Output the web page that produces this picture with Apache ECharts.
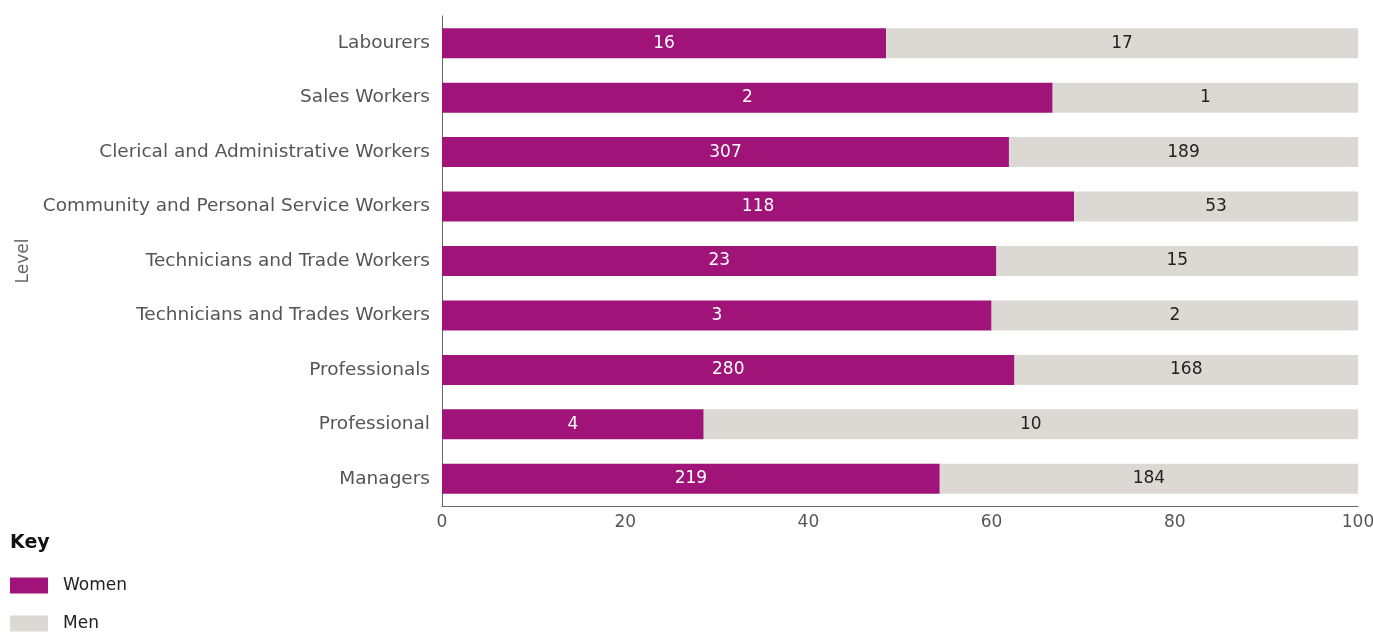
<!DOCTYPE html>
<html><head><meta charset="utf-8">
<script src="https://cdn.jsdelivr.net/npm/echarts@6/dist/echarts.min.js"></script>
<style>html,body{margin:0;padding:0;background:#fff;overflow:hidden}#c{width:1373px;height:632px}</style>
</head><body><div id="c"></div>
<script>
const categories = ["Managers","Professional","Professionals","Technicians and Trades Workers","Technicians and Trade Workers","Community and Personal Service Workers","Clerical and Administrative Workers","Sales Workers","Labourers"];
const women = [219,4,280,3,23,118,307,2,16];
const men = [184,10,168,2,15,53,189,1,17];
const xTicks = [0,20,40,60,80,100];

const womenPct = women.map((w,i)=> w/(w+men[i])*100);
const menPct = men.map((m,i)=> m/(women[i]+m)*100);
const font = "'DejaVu Sans', sans-serif";
const fs = 17;
const chart = echarts.init(document.getElementById('c'));
const legendText = {color:'#222',fontSize:fs,fontFamily:font,padding:[0,0,0,10]};
chart.setOption({
  animation:false,
  grid:{left:442,right:15,top:16,bottom:126,containLabel:false,outerBoundsMode:'none'},
  xAxis:{type:'value',min:0,max:100,interval:20,
    axisLine:{show:true,lineStyle:{color:'#666'}},axisTick:{show:false},splitLine:{show:false},
    axisLabel:{color:'#555',fontSize:fs,fontFamily:font,margin:8,formatter:v=>xTicks.includes(v)?String(v):''}},
  yAxis:{type:'category',data:categories,name:'Level',nameLocation:'middle',nameGap:399,
    nameTextStyle:{color:'#666',fontSize:fs,fontFamily:font},
    axisLine:{show:true,lineStyle:{color:'#666'}},axisTick:{show:false},
    axisLabel:{color:'#555',fontSize:18.5,fontFamily:font,margin:12}},
  legend:[
    {left:10,top:577,padding:0,itemWidth:38,itemHeight:16,icon:'rect',textStyle:legendText,data:['Women']},
    {left:10,top:615,padding:0,itemWidth:38,itemHeight:16,icon:'rect',textStyle:legendText,data:['Men']}
  ],
  graphic:[{type:'text',left:10,top:534,style:{text:'Key',fontSize:19,fontWeight:'bold',fill:'#111',fontFamily:font}}],
  series:[
    {name:'Women',type:'bar',stack:'s',barWidth:30,data:womenPct,itemStyle:{color:'#a0147a'},
     label:{show:true,position:'inside',color:'#fff',fontSize:fs,fontFamily:font,formatter:p=>String(women[p.dataIndex])}},
    {name:'Men',type:'bar',stack:'s',barWidth:30,data:menPct,itemStyle:{color:'#dcd9d5'},
     label:{show:true,position:'inside',color:'#222',fontSize:fs,fontFamily:font,formatter:p=>String(men[p.dataIndex])}}
  ]
});
</script></body></html>
